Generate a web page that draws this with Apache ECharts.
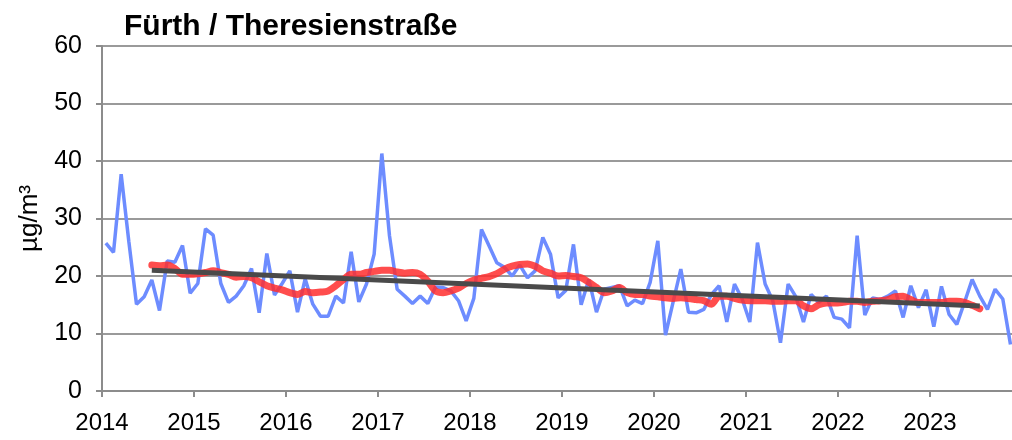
<!DOCTYPE html>
<html>
<head>
<meta charset="utf-8">
<script src="https://cdn.jsdelivr.net/npm/echarts@6/dist/echarts.min.js"></script>
<style>
html,body{margin:0;padding:0;background:#fff;}
#chart{width:1012px;height:440px;}
</style>
</head>
<body>
<div id="chart"></div>
<script>
// Tick labels (years)
const yearLabels = ['2014','2015','2016','2017','2018','2019','2020','2021','2022','2023'];
// Monthly means, Jan 2014 .. Nov 2023 (µg/m³)
const monthly = [
  25.7, 24.1, 37.7, 26.0, 15.1, 16.4, 19.3, 14.0, 22.6, 22.4, 25.3, 17.0,
  18.7, 28.2, 27.1, 18.7, 15.4, 16.5, 18.3, 21.3, 13.6, 23.9, 16.7, 18.7,
  20.9, 13.7, 19.5, 15.1, 13.0, 13.0, 16.5, 15.3, 24.2, 15.5, 18.6, 23.8,
  41.3, 27.0, 17.7, 16.5, 15.2, 16.5, 15.2, 18.1, 18.0, 17.4, 15.7, 12.2,
  16.1, 28.1, 25.2, 22.3, 21.5, 20.0, 21.9, 19.7, 20.9, 26.7, 23.8, 16.2,
  17.5, 25.5, 15.0, 19.4, 13.7, 17.7, 18.0, 18.3, 14.8, 15.8, 15.2, 18.9,
  26.1, 9.7, 15.5, 21.2, 13.7, 13.6, 14.2, 16.8, 18.3, 12.0, 18.6, 16.0,
  12.0, 25.8, 18.6, 15.7, 8.4, 18.6, 16.4, 12.0, 16.8, 15.4, 16.5, 12.8,
  12.5, 11.0, 27.0, 13.2, 16.2, 15.9, 16.5, 17.4, 12.8, 18.3, 14.5, 17.6,
  11.2, 18.2, 13.3, 11.6, 15.4, 19.4, 16.5, 14.2, 17.7, 16.0, 8.1
];
// Running mean, starting at month index 6 (Jul 2014)
const movingAvgStart = 6;
const movingAvg = [
  21.9, 21.8, 21.9, 21.3, 20.3, 20.3, 20.4, 20.6, 20.9, 20.6, 20.3, 19.8,
  19.9, 19.7, 19.0, 18.3, 17.9, 17.6, 17.1, 16.8, 17.3, 17.1, 17.2, 17.4,
  18.3, 19.4, 20.3, 20.3, 20.6, 20.8, 21.0, 21.0, 20.7, 20.5, 20.6, 20.3,
  19.1, 17.4, 17.1, 17.4, 17.9, 18.7, 19.3, 19.6, 19.9, 20.4, 21.2, 21.7,
  22.0, 22.1, 21.7, 20.9, 20.5, 20.0, 20.1, 19.9, 19.7, 18.9, 18.0, 17.1,
  17.4, 18.0, 17.1, 16.8, 16.8, 16.5, 16.4, 16.2, 16.1, 16.2, 16.1, 15.9,
  15.7, 15.1, 16.5, 16.5, 16.1, 15.8, 15.7, 15.7, 15.7, 15.6, 15.6, 15.7,
  15.7, 14.8, 14.3, 15.0, 15.3, 15.3, 15.4, 15.6, 15.6, 15.4, 15.6, 15.7,
  15.9, 16.4, 16.5, 15.9, 15.4, 15.4, 15.4, 15.4, 15.6, 15.6, 15.4, 14.9, 14.3
];
// Linear trend: month indices and values at its ends
const trendMonths = [6, 114];
const trendValues = [21.0, 14.8];

const monthlyData = monthly.map((v, i) => [i + 0.5, v]);
const avgData = movingAvg.map((v, i) => [movingAvgStart + i + 0.5, v]);
const trendData = trendMonths.map((m, i) => [m + 0.5, trendValues[i]]);

const FONT = 'Liberation Sans, Arial, sans-serif';
const chart = echarts.init(document.getElementById('chart'), null, {renderer: 'canvas'});
chart.setOption({
  animation: false,
  backgroundColor: '#ffffff',
  title: {
    text: 'Fürth / Theresienstraße',
    left: 124, top: 12, padding: 0,
    textStyle: {fontFamily: FONT, fontWeight: 'bold', fontSize: 30, color: '#000'}
  },
  grid: {left: 102, right: 0, top: 46, bottom: 49, containLabel: false},
  xAxis: {
    type: 'value', min: 0, max: 118.7, interval: 12,
    axisLine: {show: true, lineStyle: {color: '#8c8c8c', width: 2}},
    axisTick: {show: true, length: 6, lineStyle: {color: '#8c8c8c', width: 2}},
    splitLine: {show: false},
    axisLabel: {
      margin: 20, fontSize: 24, color: '#000', fontFamily: FONT,
      showMaxLabel: false,
      formatter: function (v) { const k = Math.round(v / 12); return (Math.abs(v - k * 12) < 1e-6 && yearLabels[k]) ? yearLabels[k] : ''; }
    }
  },
  yAxis: {
    type: 'value', min: 0, max: 60, interval: 10,
    name: 'µg/m³', nameLocation: 'middle', nameGap: 45, nameRotate: 90,
    nameTextStyle: {fontSize: 26, color: '#000', fontFamily: FONT},
    axisLine: {show: true, lineStyle: {color: '#8c8c8c', width: 2}},
    axisTick: {show: true, length: 6, lineStyle: {color: '#8c8c8c', width: 2}},
    splitLine: {show: true, lineStyle: {color: '#9a9a9a', width: 2}},
    axisLabel: {margin: 20, fontSize: 25, color: '#000', fontFamily: FONT}
  },
  series: [
    {type: 'line', data: monthlyData, symbol: 'none', lineStyle: {color: '#6d8cff', width: 3.5}, z: 2},
    {type: 'line', data: avgData, symbol: 'none', smooth: 0.3, lineStyle: {color: '#ff2e2e', width: 7, opacity: 0.85, cap: 'round', join: 'round'}, z: 3},
    {type: 'line', data: trendData, symbol: 'none', lineStyle: {color: '#4a4a4a', width: 5}, z: 4}
  ]
});
</script>
</body>
</html>
